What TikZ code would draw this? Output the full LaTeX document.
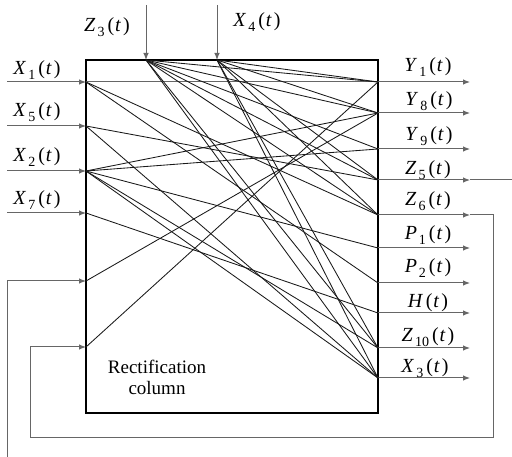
\documentclass[tikz,border=0pt]{standalone}
\usepackage{fontspec}
\setmainfont{Liberation Serif}
\usetikzlibrary{arrows.meta}
% signal label: italic letter, subscript, (t)
\newcommand\sig[2]{\textit{#1}\kern2pt\raisebox{-1.5pt}{\textsubscript{#2}}\kern2.5pt(\kern1pt\textit{t}\kern2pt)}
\begin{document}
\begin{tikzpicture}[x=1pt,y=-1pt,
  box/.style={draw, line width=1.1pt, inner sep=0pt, outer sep=0pt},
  flow/.style={draw=black!60, line width=1pt, -{Latex[length=7pt,width=5.5pt]}},
  feed/.style={draw=black!60, line width=1pt},
  link/.style={draw=black!90, line width=0.85pt},
  lbl/.style={font=\fontsize{20}{22}\selectfont, inner sep=0pt}]
\useasboundingbox (0,0) rectangle (512,457);

% column body
\node[box, minimum width=292pt, minimum height=353pt] (col) at (232,236.5) {};
\node[lbl, font=\fontsize{19}{21}\selectfont, align=center] (name) at (157,377) {Rectification\\column};

% ports on the left side
\coordinate (iX1) at (86,82);
\coordinate (iX5) at (86,126);
\coordinate (iX2) at (86,171);
\coordinate (iX7) at (86,213);
\coordinate (iF1) at (86,281);
\coordinate (iF2) at (86,347);
% ports on the top
\coordinate (iZ3) at (146,60);
\coordinate (iX4) at (217,60);
% ports on the right side
\coordinate (oY1) at (378,82);
\coordinate (oY8) at (378,113);
\coordinate (oY9) at (378,149);
\coordinate (oZ5) at (378,180);
\coordinate (oZ6) at (378,215);
\coordinate (oP1) at (378,248);
\coordinate (oP2) at (378,283);
\coordinate (oH) at (378,313);
\coordinate (oZ10) at (378,348);
\coordinate (oX3) at (378,378);

% free ends of the input arrows
\coordinate (sX1) at (7,82);
\coordinate (sX5) at (7,126);
\coordinate (sX2) at (7,171);
\coordinate (sX7) at (7,213);
\coordinate (sZ3) at (146,5);
\coordinate (sX4) at (217,5);
% free ends of the output arrows
\foreach \n/\y in {Y1/82,Y8/113,Y9/149,Z5/180,Z6/215,P1/248,P2/283,H/313,Z10/348,X3/378}
  \coordinate (e\n) at (470,\y);
% recycle loops
\coordinate (rim) at (512,180);
\coordinate (loopBR) at (493,437);
\coordinate (loopBL) at (30,437);
\coordinate (outerB) at (7,457);

% input arrows
\foreach \n in {X1,X5,X2,X7,Z3,X4}
  \draw[flow] (s\n) -- (i\n);
% output arrows
\foreach \n in {Y1,Y8,Y9,Z5,Z6,P1,P2,H,Z10,X3}
  \draw[flow] (o\n) -- (e\n);

% recycle streams
\draw[feed] (eZ5) -- (rim);
\draw[flow] (eZ6) -| (loopBR) -- (loopBL) |- (iF2);
\draw[flow] (outerB) |- (iF1);

% straight-through stream
\draw[feed] (iX1) -- (oY1);

% internal distribution of components
\foreach \a/\b in {Z3/Y1,Z3/Y8,Z3/Y9,Z3/Z5,Z3/Z6,Z3/Z10,Z3/X3,
                   X4/Y1,X4/Y8,X4/Z5,X4/Z6,X4/Z10,X4/X3,
                   X1/Z6,X1/P2,
                   X5/Z5,X5/X3,
                   X2/Y8,X2/Y9,X2/P1,X2/Z10,X2/X3,
                   X7/H,
                   F1/Y8,F2/Y1}
  \draw[link] (i\a) -- (o\b);

% labels
\node[lbl] (lZ3) at (107,27) {\sig{Z}{3}};
\node[lbl] (lX4) at (257,22) {\sig{X}{4}};
\node[lbl] (lX1) at (37,70) {\sig{X}{1}};
\node[lbl] (lX5) at (37,112) {\sig{X}{5}};
\node[lbl] (lX2) at (37,157) {\sig{X}{2}};
\node[lbl] (lX7) at (37,200) {\sig{X}{7}};
\node[lbl] (lY1) at (428,67) {\sig{Y}{1}};
\node[lbl] (lY8) at (429,101) {\sig{Y}{8}};
\node[lbl] (lY9) at (429,136) {\sig{Y}{9}};
\node[lbl] (lZ5) at (428,170) {\sig{Z}{5}};
\node[lbl] (lZ6) at (428,201) {\sig{Z}{6}};
\node[lbl] (lP1) at (428,235) {\sig{P}{1}};
\node[lbl] (lP2) at (428,268) {\sig{P}{2}};
\node[lbl] (lH) at (428,303) {\textit{H}\kern2.5pt(\kern1pt\textit{t}\kern2pt)};
\node[lbl] (lZ10) at (428,337) {\sig{Z}{10}};
\node[lbl] (lX3) at (425,368) {\sig{X}{3}};
\end{tikzpicture}
\end{document}
